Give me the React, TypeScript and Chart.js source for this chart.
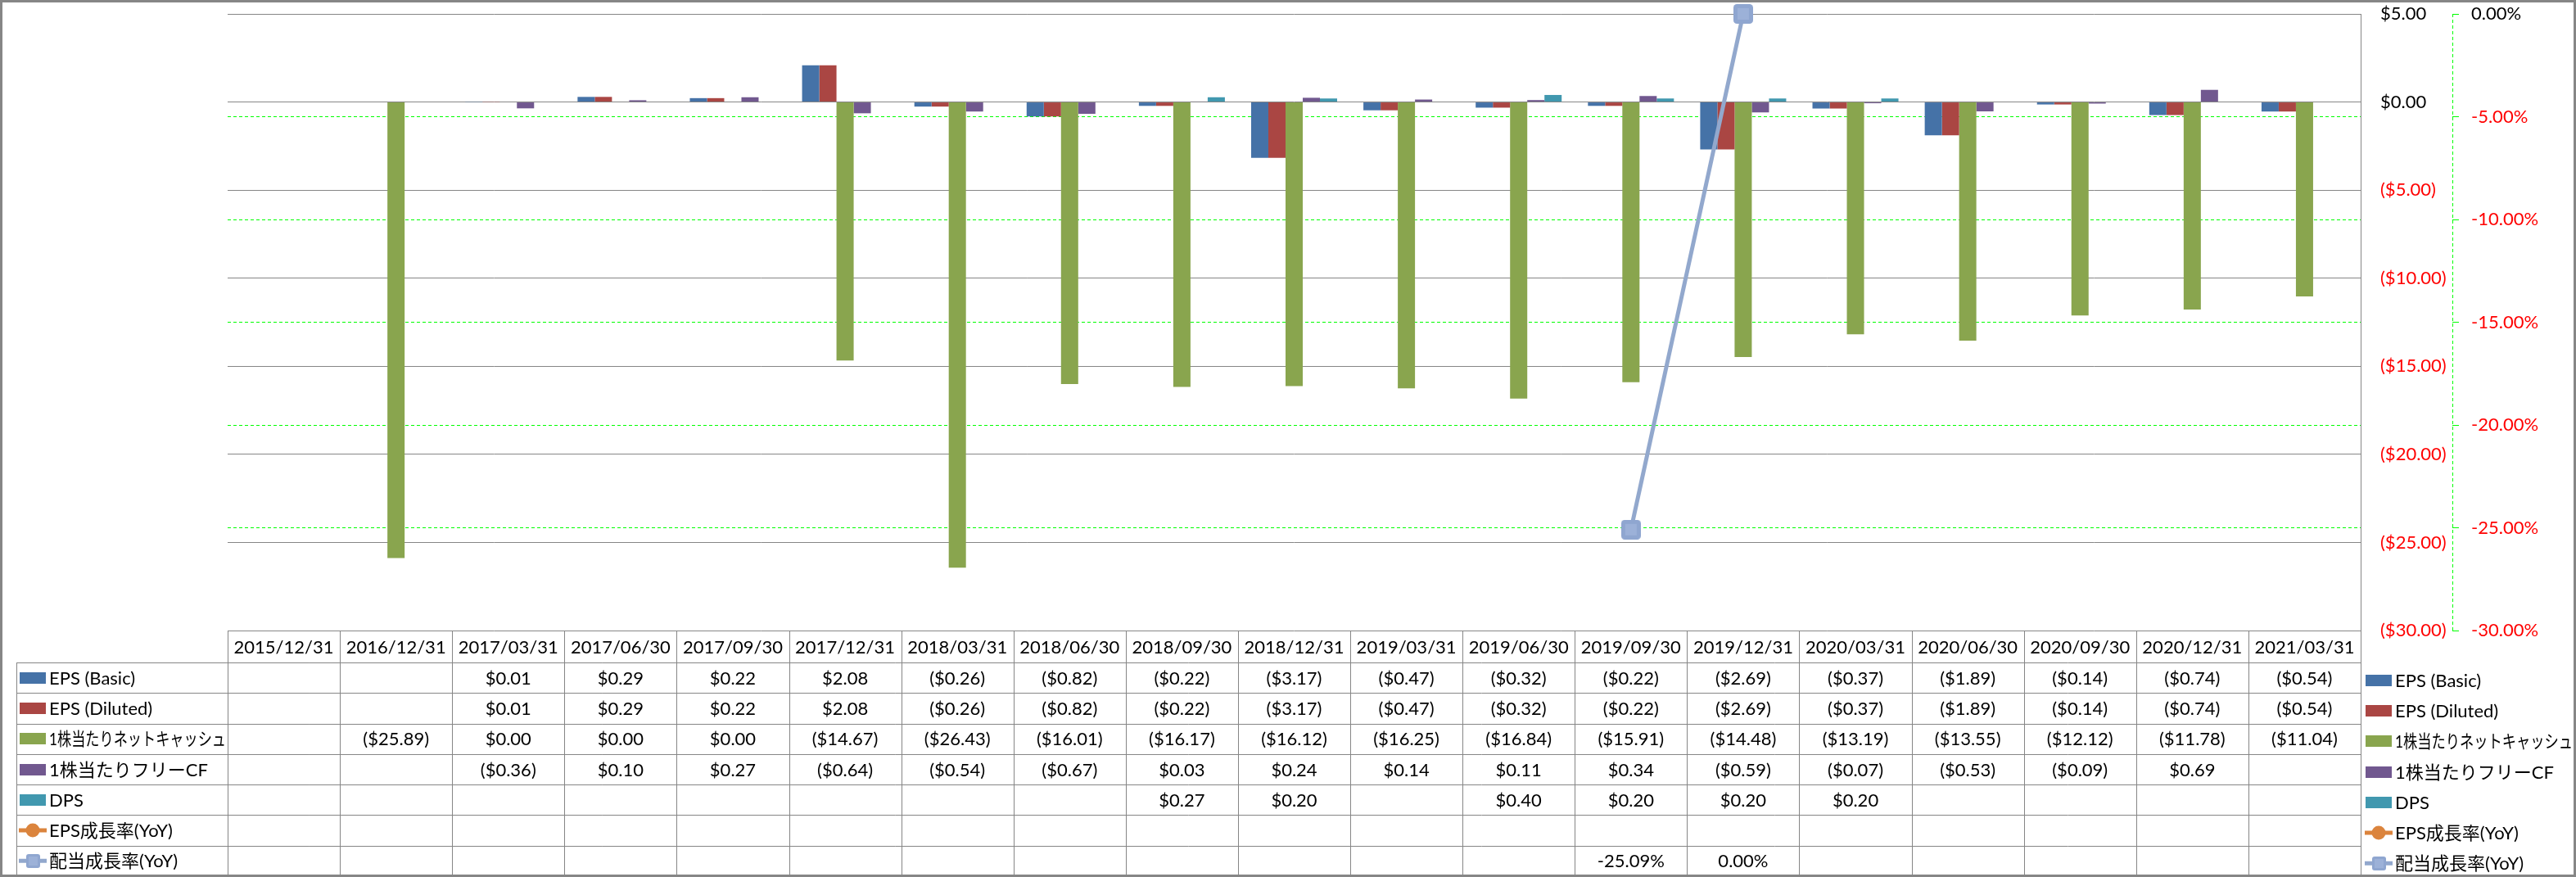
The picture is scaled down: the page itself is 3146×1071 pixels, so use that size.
import React, { useEffect, useRef } from "react";
import { Chart, registerables } from "chart.js";

Chart.register(...registerables);

// ---------------- data ----------------
const categories = [
  "2015/12/31", "2016/12/31", "2017/03/31", "2017/06/30", "2017/09/30",
  "2017/12/31", "2018/03/31", "2018/06/30", "2018/09/30", "2018/12/31",
  "2019/03/31", "2019/06/30", "2019/09/30", "2019/12/31", "2020/03/31",
  "2020/06/30", "2020/09/30", "2020/12/31", "2021/03/31",
];

const epsBasic: (number | null)[] = [
  null, null, 0.01, 0.29, 0.22, 2.08, -0.26, -0.82, -0.22, -3.17,
  -0.47, -0.32, -0.22, -2.69, -0.37, -1.89, -0.14, -0.74, -0.54,
];
const epsDiluted: (number | null)[] = [
  null, null, 0.01, 0.29, 0.22, 2.08, -0.26, -0.82, -0.22, -3.17,
  -0.47, -0.32, -0.22, -2.69, -0.37, -1.89, -0.14, -0.74, -0.54,
];
const netCashPerShare: (number | null)[] = [
  null, -25.89, 0.0, 0.0, 0.0, -14.67, -26.43, -16.01, -16.17, -16.12,
  -16.25, -16.84, -15.91, -14.48, -13.19, -13.55, -12.12, -11.78, -11.04,
];
const fcfPerShare: (number | null)[] = [
  null, null, -0.36, 0.1, 0.27, -0.64, -0.54, -0.67, 0.03, 0.24,
  0.14, 0.11, 0.34, -0.59, -0.07, -0.53, -0.09, 0.69, null,
];
const dps: (number | null)[] = [
  null, null, null, null, null, null, null, null, 0.27, 0.2,
  null, 0.4, 0.2, 0.2, 0.2, null, null, null, null,
];
const epsGrowth: (number | null)[] = [
  null, null, null, null, null, null, null, null, null, null,
  null, null, null, null, null, null, null, null, null,
];
const divGrowth: (number | null)[] = [
  null, null, null, null, null, null, null, null, null, null,
  null, null, -25.09, 0.0, null, null, null, null, null,
];

const seriesNames = [
  "EPS (Basic)",
  "EPS (Diluted)",
  "1株当たりネットキャッシュ",
  "1株当たりフリーCF",
  "DPS",
  "EPS成長率(YoY)",
  "配当成長率(YoY)",
];

const dollarAxis = { min: -30, max: 5, step: 5 };
const pctAxis = { min: -30, max: 0, step: 5 };

// ---------------- styles ----------------
const seriesColors = ["#4572A7", "#AA4643", "#89A54E", "#71588F", "#4198AF", "#DB843D", "#92A8CD"];
const FONT_FAMILY = 'Lato, "Noto Sans CJK JP", sans-serif';
const FONT_SIZE = 22;
const FONT = `${FONT_SIZE}px ${FONT_FAMILY}`;
const GRID_GRAY = "#868686";
const GREEN = "#00FF00";
const NEG_RED = "#FF0000";

const fmtDollar = (v: number) =>
  v < 0 ? `($${Math.abs(v).toFixed(2)})` : `$${v.toFixed(2)}`;
const fmtPct = (v: number) => `${v.toFixed(2)}%`;

function roundRectPath(g: CanvasRenderingContext2D, x: number, y: number, w: number, h: number, r: number) {
  g.beginPath();
  g.moveTo(x + r, y);
  g.arcTo(x + w, y, x + w, y + h, r);
  g.arcTo(x + w, y + h, x, y + h, r);
  g.arcTo(x, y + h, x, y, r);
  g.arcTo(x, y, x + w, y, r);
  g.closePath();
}

function makeSquareMarker(size: number) {
  const c = document.createElement("canvas");
  c.width = size;
  c.height = size;
  const g = c.getContext("2d")!;
  g.fillStyle = "#8FA6D0";
  roundRectPath(g, 0, 0, size, size, size * 0.18);
  g.fill();
  g.fillStyle = "#9CB1D8";
  const m = Math.round(size * 0.2);
  g.fillRect(m, m, size - 2 * m, size - 2 * m);
  return c;
}

export default function App() {
  const ref = useRef<HTMLCanvasElement>(null);

  useEffect(() => {
    const canvas = ref.current!;
    const bigMarker = makeSquareMarker(24);
    const smallMarker = makeSquareMarker(17);

    const rows: { values: (number | null)[]; fmt: (v: number) => string }[] = [
      { values: epsBasic, fmt: fmtDollar },
      { values: epsDiluted, fmt: fmtDollar },
      { values: netCashPerShare, fmt: fmtDollar },
      { values: fcfPerShare, fmt: fmtDollar },
      { values: dps, fmt: fmtDollar },
      { values: epsGrowth, fmt: fmtPct },
      { values: divGrowth, fmt: fmtPct },
    ];

    const drawKey = (ctx: CanvasRenderingContext2D, i: number, kx: number, cy: number) => {
      const color = seriesColors[i];
      if (i < 5) {
        ctx.fillStyle = color;
        ctx.fillRect(kx, Math.round(cy - 7), 32, 14);
      } else {
        ctx.strokeStyle = color;
        ctx.lineWidth = 5;
        ctx.beginPath();
        ctx.moveTo(kx - 1, cy);
        ctx.lineTo(kx + 33, cy);
        ctx.stroke();
        if (i === 5) {
          ctx.fillStyle = color;
          ctx.beginPath();
          ctx.arc(kx + 16, cy, 8.5, 0, Math.PI * 2);
          ctx.fill();
        } else {
          ctx.drawImage(smallMarker, Math.round(kx + 16 - 8.5), Math.round(cy - 8.5));
        }
      }
    };

    const tablePlugin = {
      id: "excelTable",
      beforeDraw(chart: any) {
        const ctx = chart.ctx as CanvasRenderingContext2D;
        ctx.save();
        ctx.fillStyle = "#FFFFFF";
        ctx.fillRect(0, 0, chart.width, chart.height);
        ctx.restore();
      },
      afterDraw(chart: any) {
        const ctx = chart.ctx as CanvasRenderingContext2D;
        const { chartArea, scales } = chart;
        const xs = scales.x;
        const y1 = scales.y1;
        const n = categories.length;
        const step = xs.getPixelForValue(1) - xs.getPixelForValue(0);
        const left = xs.getPixelForValue(0) - step / 2;
        const right = xs.getPixelForValue(n - 1) + step / 2;
        const top = chartArea.bottom;
        const headerH = 39;
        const bottom = chart.height - 1;
        const rowH = (bottom - top - headerH) / rows.length;
        const legendLeft = 20;
        const px = (v: number) => Math.round(v) + 0.5;

        ctx.save();
        // secondary axis dashed line
        ctx.strokeStyle = GREEN;
        ctx.lineWidth = 1;
        ctx.setLineDash([4, 3]);
        ctx.beginPath();
        ctx.moveTo(px(y1.left), chartArea.top);
        ctx.lineTo(px(y1.left), chartArea.bottom);
        ctx.stroke();
        ctx.setLineDash([]);

        // table lines
        ctx.strokeStyle = GRID_GRAY;
        ctx.lineWidth = 1;
        ctx.beginPath();
        for (let r = 0; r <= rows.length; r++) {
          const yy = px(top + headerH + r * rowH);
          ctx.moveTo(legendLeft, yy);
          ctx.lineTo(right + 0.5, yy);
        }
        ctx.moveTo(px(legendLeft), top + headerH);
        ctx.lineTo(px(legendLeft), bottom + 0.5);
        for (let c = 0; c <= n; c++) {
          const xx = px(left + c * step);
          ctx.moveTo(xx, top);
          ctx.lineTo(xx, bottom + 0.5);
        }
        ctx.stroke();

        // header
        ctx.font = FONT;
        ctx.fillStyle = "#000000";
        ctx.textAlign = "center";
        ctx.textBaseline = "middle";
        categories.forEach((cat, c) => {
          ctx.fillText(cat, xs.getPixelForValue(c), top + headerH / 2 + 1);
        });

        // cells
        rows.forEach((row, r) => {
          const cy = top + headerH + (r + 0.5) * rowH + 1;
          row.values.forEach((v, c) => {
            if (v === null || v === undefined) return;
            ctx.fillText(row.fmt(v), xs.getPixelForValue(c), cy);
          });
        });

        // left legend column
        ctx.textAlign = "left";
        rows.forEach((_, r) => {
          const cy = top + headerH + (r + 0.5) * rowH;
          drawKey(ctx, r, 24, cy);
          ctx.fillStyle = "#000000";
          ctx.fillText(seriesNames[r], 60, cy + 1, left - 62);
        });

        // right legend
        rows.forEach((_, r) => {
          const cy = top + headerH + (r + 0.5) * rowH + 3;
          drawKey(ctx, r, right + 6, cy);
          ctx.fillStyle = "#000000";
          ctx.fillText(seriesNames[r], right + 42, cy + 1, chart.width - (right + 42) - 4);
        });

        // outer border
        ctx.strokeStyle = GRID_GRAY;
        ctx.strokeRect(0.5, 0.5, chart.width - 1, chart.height - 1);
        ctx.restore();
      },
    };

    const barSeries = [epsBasic, epsDiluted, netCashPerShare, fcfPerShare, dps];

    const chart = new Chart(canvas, {
      type: "bar",
      data: {
        labels: categories,
        datasets: [
          ...barSeries.map((d, i) => ({
            type: "bar" as const,
            label: seriesNames[i],
            data: d,
            yAxisID: "y",
            backgroundColor: seriesColors[i],
            borderWidth: 0,
            order: 1,
          })),
          {
            type: "line" as const,
            label: seriesNames[5],
            data: epsGrowth,
            yAxisID: "y1",
            borderColor: seriesColors[5],
            backgroundColor: seriesColors[5],
            borderWidth: 5,
            pointStyle: "circle",
            pointRadius: 9,
            order: 0,
            clip: false as any,
          },
          {
            type: "line" as const,
            label: seriesNames[6],
            data: divGrowth,
            yAxisID: "y1",
            borderColor: seriesColors[6],
            backgroundColor: seriesColors[6],
            borderWidth: 5,
            pointStyle: bigMarker as any,
            pointRadius: 12,
            order: 0,
            spanGaps: false,
            clip: false as any,
          },
        ],
      } as any,
      options: {
        responsive: false,
        animation: false,
        devicePixelRatio: 1,
        layout: { padding: { left: 278, top: 15, bottom: 301, right: 0 } },
        plugins: { legend: { display: false }, tooltip: { enabled: false } },
        datasets: { bar: { categoryPercentage: 0.766, barPercentage: 1 } },
        scales: {
          x: { type: "category", display: false, offset: true },
          y: {
            position: "right",
            weight: 1,
            min: dollarAxis.min,
            max: dollarAxis.max,
            ticks: {
              stepSize: dollarAxis.step,
              padding: 24,
              font: { family: FONT_FAMILY, size: FONT_SIZE },
              color: (c: any) => (c.tick && c.tick.value < 0 ? NEG_RED : "#000000"),
              callback: (v: any) => fmtDollar(Number(v)),
            },
            grid: { color: GRID_GRAY, lineWidth: 1, drawTicks: false },
            border: { display: true, color: GRID_GRAY, width: 1 },
            afterFit: (s: any) => {
              s.width = 112;
              s.paddingTop = 0;
              s.paddingBottom = 0;
            },
          },
          y1: {
            position: "right",
            weight: 2,
            min: pctAxis.min,
            max: pctAxis.max,
            ticks: {
              stepSize: pctAxis.step,
              padding: 15,
              font: { family: FONT_FAMILY, size: FONT_SIZE },
              color: (c: any) => (c.tick && c.tick.value < 0 ? NEG_RED : "#000000"),
              callback: (v: any) => fmtPct(Number(v)),
            },
            grid: {
              drawOnChartArea: true,
              drawTicks: true,
              tickLength: 8,
              lineWidth: 1,
              color: (c: any) =>
                c.tick && (c.tick.value === pctAxis.max || c.tick.value === pctAxis.min)
                  ? "rgba(0,0,0,0)"
                  : GREEN,
              tickColor: GREEN,
              tickBorderDash: [],
            },
            border: { display: false, dash: [4, 3] },
            afterFit: (s: any) => {
              s.width = 151;
              s.paddingTop = 0;
              s.paddingBottom = 0;
            },
          },
        },
      } as any,
      plugins: [tablePlugin],
    });

    return () => chart.destroy();
  }, []);

  return (
    <div style={{ position: "absolute", left: 0, top: 0, width: 3146, height: 1071, background: "#fff" }}>
      <canvas ref={ref} width={3146} height={1071} style={{ display: "block", width: 3146, height: 1071 }} />
    </div>
  );
}
